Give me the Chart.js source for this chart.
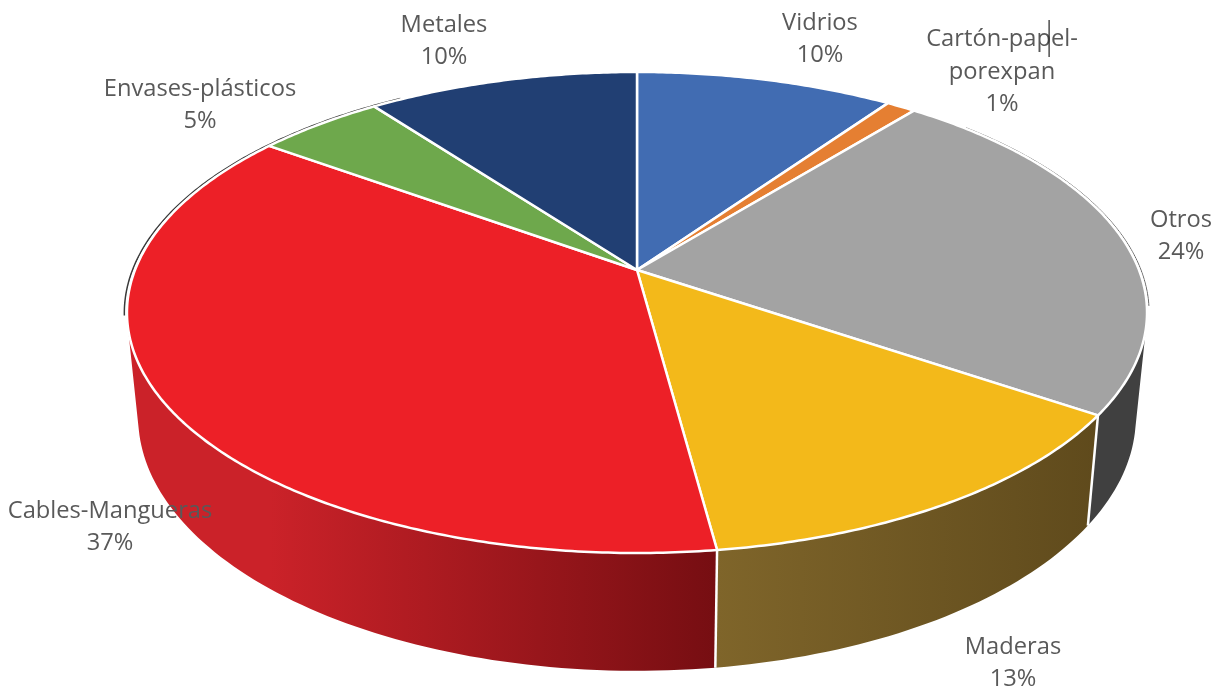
<!DOCTYPE html>
<html>
<head>
<meta charset="utf-8">
<title>Composición de residuos</title>
<script src="https://cdn.jsdelivr.net/npm/chart.js"></script>
<style>
    html, body { margin: 0; padding: 0; background: #fff; }
    /* the reference is a slightly soft screenshot */
    canvas { display: block; filter: blur(0.4px); }
</style>
</head>
<body>
<canvas id="residuosChart" width="1219" height="691"></canvas>

<script>
    // Chart data
    const categories = ["Vidrios", ["Cartón-papel-", "porexpan"], "Otros", "Maderas", "Cables-Mangueras", "Envases-plásticos", "Metales"];
    const shares = [9.7, 1.1, 23.7, 13.4, 37.1, 4.8, 10.2];

    // Slice colours
    const topColors = ["#416cb2", "#e57f32", "#a3a3a3", "#f3b91a", "#ed2027", "#6ea84c", "#213f73"];
    const wallLeft = ["#263f68", "#86491c", "#404040", "#7f652a", "#cb2229", "#40622c", "#132543"];
    const wallRight = ["#263f68", "#86491c", "#404040", "#5f4a1c", "#760e12", "#40622c", "#132543"];

    // Where each label block is centred, in the same order as categories
    const labelCenters = [[820, 39.5], [1002, 72], [1181, 236.5], [1013, 663.5], [110, 527.5], [200, 105.5], [444, 41.5]];

    // Perspective of the pie: top face and bottom rim of the disc
    const tilt = 0.1767;
    const topFace = { cx: 637, cy: 270, a: 502, b: 233 };
    const bottomRim = { cx: 637, cy: 372, a: 491, b: 246 };

    // arc angle (chart.js radians) -> picture point on a plane, r = 1 is the rim
    function project(plane, angle, r) {
        const u = r * Math.cos(angle);
        const v = -r * Math.sin(angle);
        const w = 1 + tilt * v;
        return [plane.cx + plane.a * u / w, plane.cy - plane.b * v / w];
    }

    function traceRim(ctx, plane, from, to, moveFirst) {
        const steps = Math.max(2, Math.ceil(Math.abs(to - from) / 0.01));
        for (let i = 0; i <= steps; i++) {
            const p = project(plane, from + (to - from) * i / steps, 1);
            if (i === 0 && moveFirst) ctx.moveTo(p[0], p[1]);
            else ctx.lineTo(p[0], p[1]);
        }
    }

    // Small quads in one path, so the wall also fills the hull where the two rims cross
    function fillWall(ctx, from, to, style) {
        const steps = Math.max(2, Math.ceil((to - from) / 0.02));
        ctx.beginPath();
        for (let i = 0; i < steps; i++) {
            const t0 = from + (to - from) * i / steps;
            const t1 = from + (to - from) * (i + 1) / steps;
            const a = project(topFace, t0, 1), b = project(topFace, t1, 1);
            const c = project(bottomRim, t1, 1), d = project(bottomRim, t0, 1);
            // keep every quad wound the same way or nonzero fill punches holes
            const area = (b[0] - a[0]) * (d[1] - a[1]) - (b[1] - a[1]) * (d[0] - a[0]);
            const pts = area >= 0 ? [a, b, c, d] : [d, c, b, a];
            ctx.moveTo(pts[0][0], pts[0][1]);
            ctx.lineTo(pts[1][0], pts[1][1]);
            ctx.lineTo(pts[2][0], pts[2][1]);
            ctx.lineTo(pts[3][0], pts[3][1]);
            ctx.closePath();
        }
        ctx.fillStyle = style;
        ctx.fill();
    }

    function strokeBackEdge(ctx, from, to, color, width, r) {
        ctx.beginPath();
        for (let t = from; t < to; t += 0.01) {
            const p = project(topFace, t, r);
            ctx.lineTo(p[0], p[1]);
        }
        ctx.strokeStyle = color;
        ctx.lineWidth = width;
        ctx.stroke();
    }

    const tiltedPie = {
        id: 'tiltedPie',
        beforeDatasetDraw(chart, args) {
            const ctx = chart.ctx;
            const arcs = args.meta.data;
            ctx.save();
            ctx.lineJoin = 'round';

            // Outer walls first, the top face covers whatever is behind it
            arcs.forEach((arc, i) => {
                const a = project(topFace, arc.startAngle, 1);
                const b = project(topFace, arc.endAngle, 1);
                const grad = ctx.createLinearGradient(Math.min(a[0], b[0]), 0, Math.max(a[0], b[0]), 0);
                grad.addColorStop(0, wallLeft[i]);
                grad.addColorStop(1, wallRight[i]);
                fillWall(ctx, arc.startAngle, arc.endAngle, grad);
            });

            // White seams on the front of the wall
            ctx.strokeStyle = '#fff';
            ctx.lineWidth = 2.5;
            arcs.forEach((arc) => {
                const s = arc.startAngle;
                if (Math.sin(s) > 0.3) {
                    const p = project(topFace, s, 1);
                    const q = project(bottomRim, s, 1);
                    ctx.beginPath();
                    ctx.moveTo(p[0], p[1]);
                    ctx.lineTo(q[0], q[1]);
                    ctx.stroke();
                }
            });

            // Dark edge peeking out behind the back of the disc
            strokeBackEdge(ctx, Math.PI * 0.94, Math.PI * 1.32, '#3a3a3a', 1.5, 1.005);
            strokeBackEdge(ctx, Math.PI * 2 - 0.75, Math.PI * 2 + 0.15, '#6a6a6a', 1, 1.004);

            // Top face
            arcs.forEach((arc, i) => {
                const c = project(topFace, arc.startAngle, 0);
                ctx.beginPath();
                ctx.moveTo(c[0], c[1]);
                traceRim(ctx, topFace, arc.startAngle, arc.endAngle, false);
                ctx.closePath();
                ctx.fillStyle = topColors[i];
                ctx.fill();
                ctx.strokeStyle = '#fff';
                ctx.lineWidth = 2.5;
                ctx.stroke();
            });

            ctx.restore();
            return false;
        },
        afterDraw(chart) {
            const ctx = chart.ctx;
            const values = chart.data.datasets[0].data;
            ctx.save();
            ctx.font = '23.7px "Open Sans"';
            ctx.fillStyle = '#595959';
            ctx.textAlign = 'center';
            ctx.textBaseline = 'middle';
            chart.data.labels.forEach((label, i) => {
                const lines = [].concat(label, Math.round(values[i]) + '%');
                const y0 = labelCenters[i][1] - (lines.length - 1) * 16.25;
                lines.forEach((line, n) => ctx.fillText(line, labelCenters[i][0], y0 + n * 32.5));
            });
            // Text cursor left in the "Cartón-papel-" label
            ctx.fillStyle = '#222';
            ctx.fillRect(1048.5, 20, 1.2, 37);
            ctx.restore();
        }
    };

    new Chart(document.getElementById('residuosChart'), {
        type: 'pie',
        data: {
            labels: categories,
            datasets: [{ data: shares, backgroundColor: topColors, borderColor: '#fff' }]
        },
        options: {
            responsive: false,
            animation: false,
            plugins: {
                legend: { display: false },
                tooltip: { enabled: false }
            }
        },
        plugins: [tiltedPie]
    });
</script>
</body>
</html>
